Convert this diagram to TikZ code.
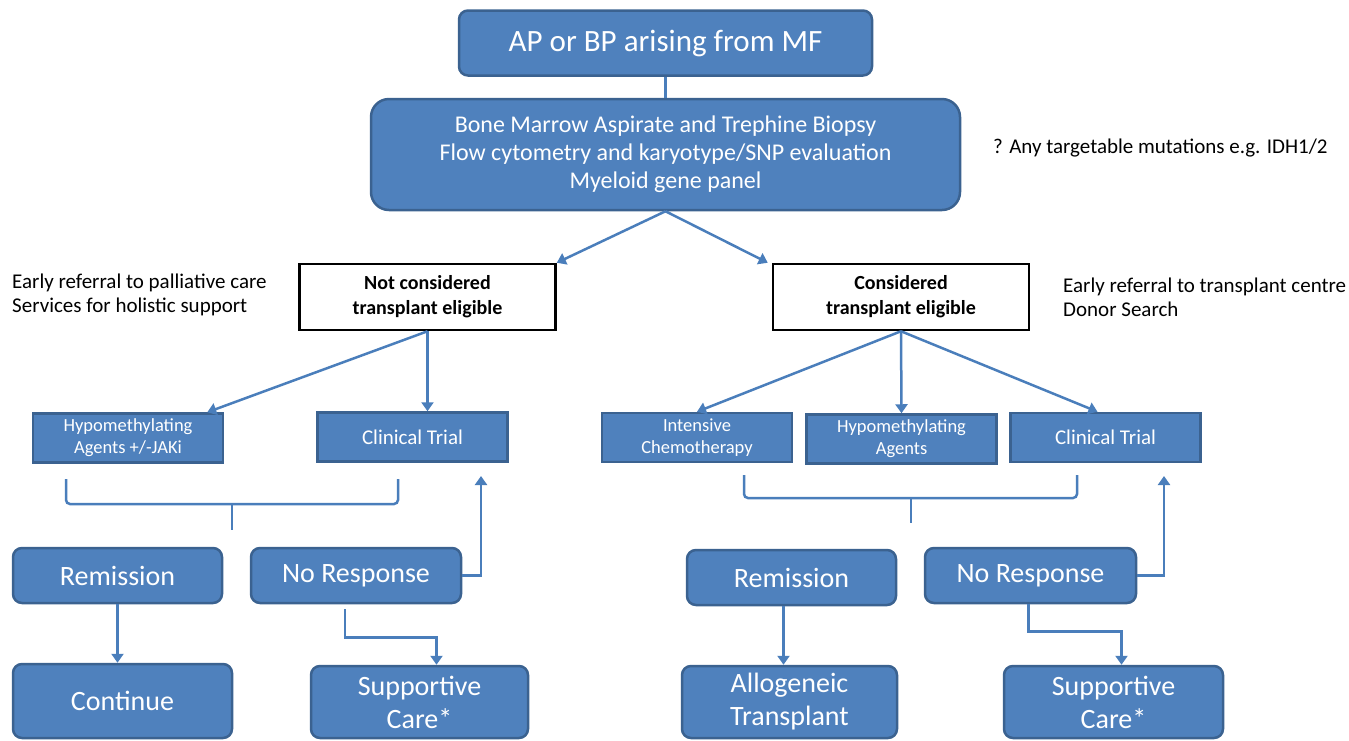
\documentclass[tikz,border=0pt]{standalone}
\usepackage{fontspec}
\setmainfont{Carlito}
\usetikzlibrary{arrows.meta,calc}

\definecolor{boxblue}{HTML}{4F81BD}
\definecolor{boxline}{HTML}{3B6290}
\definecolor{linkblue}{HTML}{4A7EBB}

\begin{document}
\begin{tikzpicture}[x=1pt,y=-1pt]
	\tikzset{
	box/.style={draw=boxline, fill=boxblue, line width=2.5pt, text=white, align=center, inner sep=0pt},
	rbox/.style={box, rounded corners=9pt, font=\fontsize{28}{33}\selectfont},
	sbox/.style={box, minimum width=190pt, minimum height=49pt, font=\fontsize{18.5}{22}\selectfont},
	decide/.style={draw=black, line width=2.5pt, fill=white, align=center, minimum width=256pt, minimum height=66pt, font=\bfseries\fontsize{20}{25}\selectfont},
	note/.style={anchor=west, align=left, inner sep=0pt, font=\fontsize{21}{24}\selectfont},
	link/.style={linkblue, line width=2.5pt},
	arrow/.style={link, -{Triangle[width=12pt,length=9pt]}}}

	\useasboundingbox (0,0) rectangle (1349,740);

	%top
	\node[rbox, minimum width=413pt, minimum height=65pt, font=\fontsize{31}{37}\selectfont] (ap) at (665.5,43) {AP or BP arising from MF};
	\node[rbox, rounded corners=18pt, minimum width=589pt, minimum height=111pt, font=\fontsize{24}{28}\selectfont] (bm) at (665.5,154.5)
		{Bone Marrow Aspirate and Trephine Biopsy\\Flow cytometry and karyotype/SNP evaluation\\Myeloid gene panel};
	\node[note] (mut) at (993,148) {? Any targetable mutations e.g. IDH1/2};

	\node[decide] (nc) at (427.5,297) {Not considered\\transplant eligible};
	\node[decide] (cc) at (901,297) {Considered\\transplant eligible};
	\node[note] (pal) at (12,295) {Early referral to palliative care\\Services for holistic support};
	\node[note] (don) at (1063,297) {Early referral to transplant centre\\Donor Search};

	\draw[link] (ap) -- (bm);
	\draw[arrow] (bm.south) -- (nc.north east);
	\draw[arrow] (bm.south) -- ([xshift=-4pt]cc.north west);

	%not eligible
	\node[sbox] (hypoL) at (128,438) {Hypomethylating\\Agents +/-JAKi};
	\node[sbox, font=\fontsize{21}{24}\selectfont] (ctL) at (412.5,437) {Clinical Trial};
	\draw[arrow] (nc.south) -- ([xshift=-17pt]hypoL.north east);
	\draw[arrow] (nc.south) -- (nc.south |- ctL.north);

	\draw[link, rounded corners=4pt] (66,479) -- (66,504) -- (398,504) -- (398,479);
	\draw[link] (232,504) -- (232,530);

	\node[rbox, minimum width=209pt, minimum height=55pt] (remL) at (117.5,575.5) {Remission};
	\node[rbox, minimum width=210pt, minimum height=55pt] (nrL) at (356,575.5) {No Response};
	\node[rbox, minimum width=219pt, minimum height=74pt] (contL) at (122.5,701) {Continue};
	\node[rbox, minimum width=217pt, minimum height=72pt] (supL) at (419.5,702) {Supportive\\Care*};

	\coordinate (upL) at (481,476);
	\draw[arrow] (nrL.east) -| (upL);
	\draw[arrow] (remL.south) -- (remL.south |- contL.north);
	\draw[arrow] ([xshift=-11pt,yshift=-5pt]nrL.south) -- ++(0,28) -| ([xshift=17pt]supL.north);

	%eligible
	\node[sbox] (ic) at (697,437.5) {Intensive\\Chemotherapy};
	\node[sbox] (ha) at (901.5,439) {Hypomethylating\\Agents};
	\node[sbox, font=\fontsize{21}{24}\selectfont] (ctR) at (1105.5,437.5) {Clinical Trial};
	\draw[arrow] (cc.south) -- (ic.north);
	\draw[arrow] (cc.south) -- (ha.north);
	\draw[arrow] (cc.south) -- ([xshift=-8pt]ctR.north);

	\draw[link, rounded corners=4pt] (744,475) -- (744,498) -- (1077,498) -- (1077,475);
	\draw[link] (911,498) -- (911,523);

	\node[rbox, minimum width=209pt, minimum height=55pt] (remR) at (791.5,577.5) {Remission};
	\node[rbox, minimum width=211pt, minimum height=55pt] (nrR) at (1030.5,575.5) {No Response};
	\node[rbox, minimum width=215pt, minimum height=72pt] (allo) at (789.5,702) {Allogeneic\\Transplant};
	\node[rbox, minimum width=219pt, minimum height=72pt] (supR) at (1113.5,702) {Supportive\\Care*};

	\coordinate (upR) at (1164,476);
	\draw[arrow] (nrR.east) -| (upR);
	\draw[arrow] ([xshift=-8pt]remR.south) -- ([xshift=-8pt]remR.south |- allo.north);
	\draw[arrow] ([xshift=-2pt]nrR.south) -- ++(0,27) -| ([xshift=8pt]supR.north);

\end{tikzpicture}
\end{document}
